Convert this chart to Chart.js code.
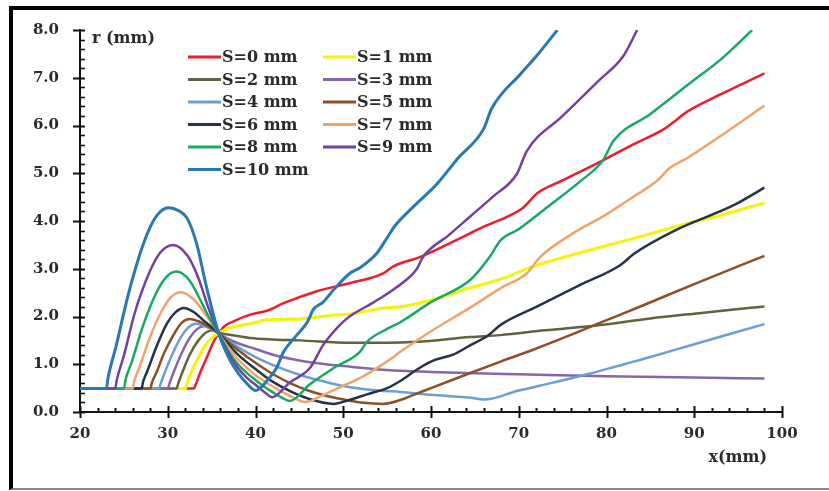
<!DOCTYPE html>
<html lang="en">
<head>
<meta charset="UTF-8">
<title>r (mm) vs x (mm)</title>
<script src="https://cdn.jsdelivr.net/npm/chart.js"></script>
<style>
  html, body { margin: 0; padding: 0; background: #fff; }
  #wrap { position: relative; width: 829px; height: 491px; overflow: hidden; }
  #frame { position: absolute; left: 9px; top: 6px; width: 840px; height: 478px;
           border-top: 4px solid #000; border-left: 4px solid #000; border-bottom: 2px solid #888;
           pointer-events: none; }
  canvas { position: absolute; left: 0; top: 0; }
</style>
</head>
<body>
<div id="wrap">
  <canvas id="chart" width="829" height="491"></canvas>
  <div id="frame"></div>
</div>
<script>
// values, [x, r] in mm
const s0 = [[20,0.49],[33,0.49],[33.2,0.58],[33.6,0.78],[34.4,1.12],[35.2,1.46],[35.8,1.65],[36.5,1.8],[37.5,1.9],[39.4,2.04],[41.3,2.12],[43.2,2.28],[47,2.53],[50.8,2.70],[54.6,2.91],[55.7,3.05],[58.8,3.25],[62,3.52],[66,3.88],[70.5,4.28],[72.1,4.58],[75,4.85],[79.6,5.27],[83,5.6],[86.5,5.92],[87.5,6.05],[89.2,6.29],[93,6.65],[98,7.09]];
const s1 = [[20,0.49],[32,0.49],[32.2,0.6],[32.6,0.8],[33.5,1.15],[34.5,1.45],[35.8,1.65],[37,1.76],[39.4,1.85],[41.3,1.93],[45.1,1.95],[48.9,2.03],[50.8,2.05],[54.6,2.18],[56.5,2.2],[60.3,2.36],[64.1,2.58],[67.9,2.78],[71.7,3.05],[79.3,3.45],[84,3.68],[88.8,3.93],[93,4.12],[98,4.38]];
const s2 = [[20,0.49],[31,0.49],[31.2,0.6],[31.6,0.8],[32.5,1.2],[33.5,1.5],[34.5,1.68],[35.3,1.71],[35.8,1.66],[37,1.62],[39.4,1.55],[42,1.52],[45.1,1.50],[50.8,1.45],[55,1.45],[58.4,1.47],[64.5,1.57],[67.9,1.61],[73,1.71],[79.3,1.82],[85,1.96],[90,2.06],[98,2.21]];
const s3 = [[20,0.49],[30,0.49],[30.2,0.6],[30.6,0.8],[31.5,1.2],[32.5,1.55],[33.3,1.73],[34.2,1.8],[35,1.74],[35.8,1.65],[37,1.52],[38,1.44],[40,1.32],[42,1.2],[45,1.08],[48,1.0],[50.8,0.95],[55,0.88],[60,0.84],[65,0.81],[70,0.79],[80,0.75],[90,0.72],[98,0.70]];
const s4 = [[20,0.49],[29,0.49],[29.2,0.6],[29.6,0.8],[30.5,1.2],[31.5,1.57],[32.4,1.78],[33.2,1.85],[34.5,1.78],[35.8,1.65],[37,1.48],[38,1.36],[40,1.15],[42,0.98],[45,0.78],[48,0.63],[50.8,0.52],[54,0.45],[56.5,0.42],[60,0.36],[64.5,0.3],[66,0.26],[70,0.45],[74,0.62],[77.8,0.79],[82,1.0],[84,1.1],[90,1.42],[98,1.84]];
const s5 = [[20,0.49],[28,0.49],[28.2,0.62],[28.7,0.82],[29.6,1.24],[30.8,1.66],[31.6,1.87],[32.5,1.95],[33.5,1.9],[34.7,1.78],[35.8,1.65],[37,1.45],[38,1.3],[40,1.03],[42,0.79],[44,0.6],[46,0.45],[48,0.34],[50,0.26],[52,0.2],[54.6,0.17],[56.5,0.25],[58,0.36],[60,0.5],[64.1,0.79],[68,1.06],[72,1.33],[76,1.62],[79.3,1.87],[84,2.22],[90,2.68],[98,3.27]];
const s6 = [[20,0.49],[27,0.49],[27.2,0.64],[27.7,0.87],[28.7,1.36],[29.9,1.85],[30.9,2.09],[31.8,2.18],[33,2.09],[34,1.93],[35,1.78],[35.8,1.65],[37,1.4],[38,1.2],[40,0.9],[42,0.63],[44,0.43],[46,0.28],[48.9,0.17],[50.5,0.24],[52.7,0.37],[55,0.5],[56.5,0.65],[58.5,0.9],[60.3,1.08],[62.5,1.2],[64.5,1.4],[66.5,1.6],[67.9,1.82],[72,2.2],[77,2.66],[81.6,3.08],[83.1,3.31],[88,3.82],[94.5,4.33],[98,4.7]];
const s7 = [[20,0.49],[26,0.49],[26.2,0.66],[26.8,0.95],[27.9,1.53],[29.3,2.11],[30.4,2.41],[31.5,2.51],[33,2.35],[34,2.12],[35,1.87],[35.8,1.65],[37,1.33],[38,1.1],[40,0.77],[42,0.53],[44,0.33],[45.7,0.21],[48,0.38],[50,0.55],[51.9,0.71],[55,1.06],[56.5,1.26],[60,1.69],[64.5,2.19],[68,2.6],[70.9,2.9],[72.4,3.24],[76,3.72],[80,4.14],[83,4.5],[86,4.88],[87,5.08],[89.4,5.34],[93,5.78],[98,6.42]];
const s8 = [[20,0.49],[25,0.49],[25.2,0.68],[25.9,1.05],[27.1,1.76],[28.6,2.46],[29.8,2.82],[31,2.94],[32.5,2.75],[33.7,2.35],[34.8,1.95],[35.8,1.65],[37,1.25],[38,1.0],[39,0.82],[40,0.67],[41,0.53],[42,0.41],[43,0.3],[43.9,0.23],[46.2,0.58],[48.9,0.92],[51.9,1.26],[52.7,1.47],[55,1.74],[56.5,1.88],[60,2.3],[64.5,2.77],[66.7,3.25],[67.9,3.59],[70,3.83],[73.6,4.34],[77,4.83],[79.6,5.27],[80.8,5.68],[85,6.24],[89.6,6.9],[93,7.38],[96.6,8.0]];
const s9 = [[20,0.49],[24,0.49],[24.2,0.68],[25,1.18],[26.2,2.05],[27.9,2.92],[29.2,3.35],[30.6,3.5],[32.3,3.26],[33.5,2.8],[34.6,2.2],[35.8,1.65],[37,1.2],[38,0.92],[39,0.72],[40,0.57],[41,0.42],[41.9,0.31],[43.9,0.62],[46.2,0.92],[47.7,1.4],[49.6,1.82],[50.8,2.01],[53.4,2.29],[56,2.6],[58.4,3.0],[59.1,3.25],[62,3.7],[64.5,4.1],[67,4.5],[69.8,4.99],[70.9,5.46],[75,6.2],[79,6.92],[81.9,7.45],[83.5,8.0]];
const s10 = [[20,0.49],[23,0.49],[23.2,0.72],[24.1,1.37],[25.5,2.46],[27.3,3.56],[28.7,4.1],[30.1,4.28],[31.2,4.22],[32.2,4.06],[33.3,3.52],[34.4,2.63],[35.8,1.65],[37,1.12],[38,0.82],[39,0.6],[40,0.45],[41.3,0.65],[42.4,0.92],[43.2,1.26],[44.7,1.61],[45.9,1.88],[46.6,2.15],[47.7,2.3],[49,2.58],[50.8,2.91],[51.9,3.02],[53.8,3.32],[55,3.65],[55.9,3.9],[58,4.3],[60.7,4.78],[63,5.3],[66,5.93],[66.9,6.35],[70.2,7.08],[72,7.45],[74.4,8.0]];

const series = [s0, s1, s2, s3, s4, s5, s6, s7, s8, s9, s10];
const seriesNames = ['S=0 mm', 'S=1 mm', 'S=2 mm', 'S=3 mm', 'S=4 mm', 'S=5 mm',
                     'S=6 mm', 'S=7 mm', 'S=8 mm', 'S=9 mm', 'S=10 mm'];
const seriesColors = ['#ee1c2c', '#f4f40a', '#62623f', '#8566a8', '#6c9ed6', '#8c5028',
                      '#263246', '#f0a46c', '#18a863', '#7440a0', '#2a78b2'];
const xTitle = 'x(mm)';
const yTitle = 'r (mm)';

const labelFont = { family: '"DejaVu Serif", serif', size: 15, weight: 'bold' };
const textColor = '#2a2a2a';

// axis ticks, axis titles and the two-column legend inside the plot
const decor = {
  id: 'decor',
  afterDraw(chart) {
    const ctx = chart.ctx;
    const xs = chart.scales.x, ys = chart.scales.y;
    const left = chart.chartArea.left, bottom = chart.chartArea.bottom;
    ctx.save();
    ctx.strokeStyle = '#111';
    for (let i = 0; i <= 40; i++) {
      const py = Math.round(ys.getPixelForValue(i / 5)) + 0.5;
      const major = i % 5 === 0;
      ctx.lineWidth = major ? 2 : 1.6;
      ctx.beginPath();
      ctx.moveTo(major ? left - 7 : left, py);
      ctx.lineTo(left + 5, py);
      ctx.stroke();
    }
    ctx.lineWidth = 2;
    for (let v = 20; v <= 100; v += 2) {
      const px = Math.round(xs.getPixelForValue(v)) + 0.5;
      const major = v % 10 === 0;
      ctx.beginPath();
      ctx.moveTo(px, major ? bottom - 6 : bottom - 4);
      ctx.lineTo(px, major ? bottom + 6 : bottom);
      ctx.stroke();
    }

    ctx.fillStyle = textColor;
    ctx.font = 'bold 16px "DejaVu Serif", serif';
    ctx.textBaseline = 'middle';
    ctx.textAlign = 'left';
    ctx.fillText(yTitle, left + 12, 39);
    ctx.textAlign = 'right';
    ctx.fillText(xTitle, 767, 458);

    ctx.textAlign = 'left';
    chart.data.datasets.forEach((ds, i) => {
      const col = i % 2, row = Math.floor(i / 2);
      const lx = col ? 323 : 188;
      const ly = 57 + row * 22.5;
      ctx.strokeStyle = ds.borderColor;
      ctx.lineWidth = 3;
      ctx.beginPath();
      ctx.moveTo(lx, ly);
      ctx.lineTo(lx + 33, ly);
      ctx.stroke();
      ctx.fillText(ds.label, lx + 34, ly + 1);
    });
    ctx.restore();
  }
};

const datasets = series.map((pts, i) => ({
  label: seriesNames[i],
  data: pts.map(p => ({ x: p[0], y: p[1] })),
  borderColor: seriesColors[i],
  backgroundColor: seriesColors[i],
  borderWidth: i === 1 || i === 10 ? 3 : 2.5,
  pointRadius: 0,
  cubicInterpolationMode: 'monotone',
  fill: false,
  order: 10 - i
}));

new Chart(document.getElementById('chart'), {
  type: 'line',
  data: { datasets: datasets },
  options: {
    responsive: false,
    animation: false,
    layout: { padding: { left: 10, right: 47, top: 22, bottom: 19 } },
    plugins: { legend: { display: false }, tooltip: { enabled: false } },
    scales: {
      x: {
        type: 'linear', min: 20, max: 100,
        afterFit: s => { s.height = 60; },
        ticks: { stepSize: 10, padding: 13, color: textColor, font: labelFont, maxRotation: 0 },
        grid: { display: false, drawTicks: false },
        border: { display: true, color: '#111', width: 2 }
      },
      y: {
        min: 0, max: 8,
        afterFit: s => { s.width = 70; },
        ticks: { stepSize: 1, padding: 21, color: textColor, font: labelFont, callback: v => v.toFixed(1) },
        grid: { display: false, drawTicks: false },
        border: { display: true, color: '#111', width: 2 }
      }
    }
  },
  plugins: [decor]
});
</script>
</body>
</html>
